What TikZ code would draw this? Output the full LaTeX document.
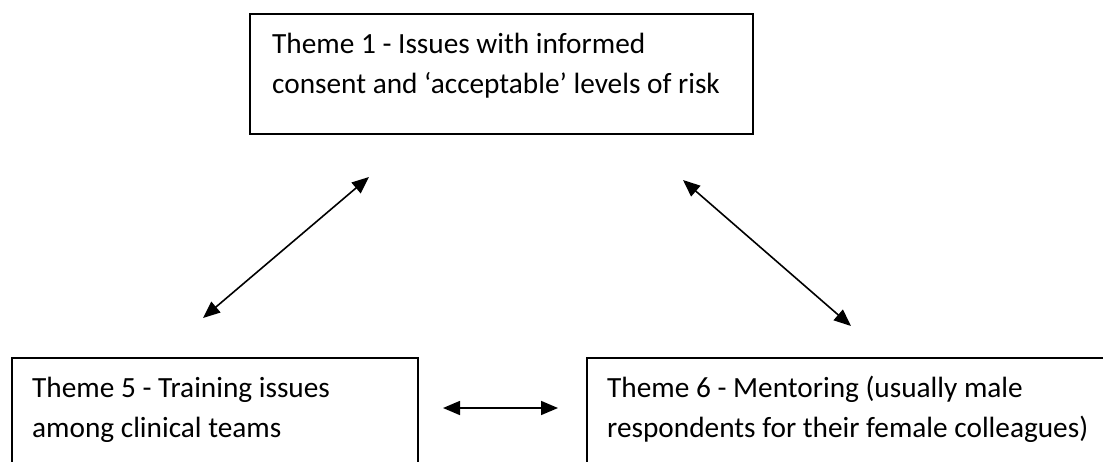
\documentclass[tikz,border=0pt]{standalone}
\usepackage{fontspec}
\setmainfont{Carlito}
\usetikzlibrary{arrows.meta}
\begin{document}
\begin{tikzpicture}[x=1pt,y=-1pt,
  themebox/.style={draw=black,line width=2pt},
  themetext/.style={anchor=base west,inner sep=0pt,font=\fontsize{29.3}{40}\selectfont},
  link/.style={line width=1.6pt,{Triangle[length=17pt,width=14pt]}-{Triangle[length=17pt,width=14pt]}}]
\clip (0,0) rectangle (1103,461);
\fill[white] (0,0) rectangle (1103,461);
% boxes
\draw[themebox] (250,14) rectangle (753,134);
\draw[themebox] (12,358) rectangle (418,480);
\draw[themebox] (587,358) rectangle (1120,480);
% texts
\node[themetext] (t1a) at (272,53) {Theme 1 - Issues with informed};
\node[themetext] (t1b) at (272,93) {consent and ‘acceptable’ levels of risk};
\node[themetext] (t5a) at (32,397) {Theme 5 - Training issues};
\node[themetext] (t5b) at (32,437) {among clinical teams};
\node[themetext] (t6a) at (607,397) {Theme 6 - Mentoring (usually male};
\node[themetext] (t6b) at (607,437) {respondents for their female colleagues)};
% arrow ends
\coordinate (a1) at (369,177);
\coordinate (a2) at (203,318);
\coordinate (b1) at (683,180);
\coordinate (b2) at (851,326);
\coordinate (c1) at (443,408);
\coordinate (c2) at (558,408);
\draw[link] (a1) -- (a2);
\draw[link] (b1) -- (b2);
\draw[link] (c1) -- (c2);
\end{tikzpicture}
\end{document}
